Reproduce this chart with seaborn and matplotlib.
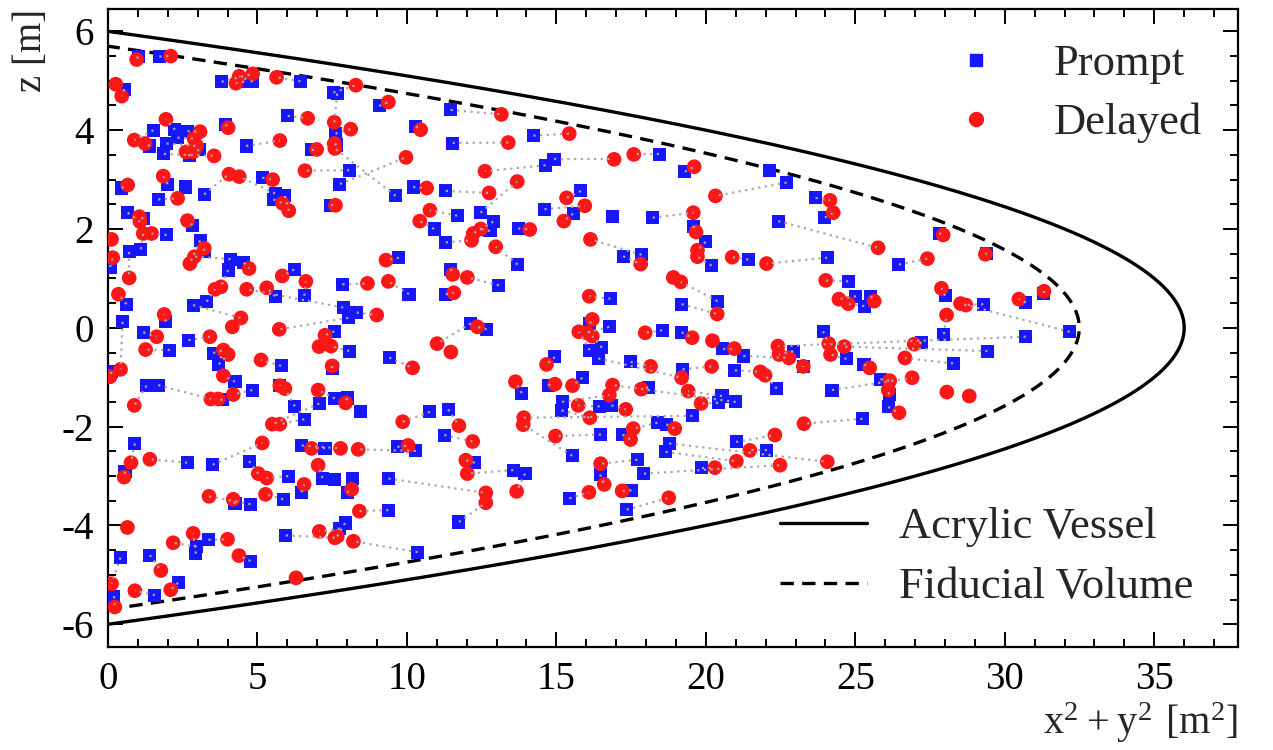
import numpy as np
import pandas as pd
import matplotlib
matplotlib.use("Agg")
import matplotlib.pyplot as plt
import seaborn as sns
from matplotlib.lines import Line2D
from matplotlib.collections import LineCollection
from matplotlib.ticker import MultipleLocator

# Prompt event positions: x^2 + y^2 [m^2] and z [m]
prompt_x = [
    1.01, 1.72, 0.55, 3.80, 4.55, 4.84, 6.44, 7.54, 7.67, 9.07, 6.01, 3.94, 1.52, 2.24, 2.66, 2.32,
    1.96, 1.40, 1.87, 2.74, 3.05, 4.62, 6.82, 7.61, 7.65, 8.07, 7.76, 5.16, 2.58, 2.00, 0.46, 3.22,
    1.68, 5.59, 5.92, 5.53, 7.46, 0.66, 1.18, 2.82,
    11.46, 10.30, 11.53, 14.23, 18.44, 14.92, 14.64, 10.21, 9.62, 11.30, 15.82, 14.60, 15.56, 12.46,
    11.68, 12.89, 10.91, 12.78, 13.72, 16.88, 18.22,
    19.30, 22.12, 22.70, 23.67, 23.98, 22.42, 19.58, 27.80,
    1.96, 3.08, 3.22, 0.71, 1.10, 4.10, 4.55, 4.02, 6.23, 7.84, 5.59, 6.57, 0.62, 2.85, 3.30, 7.87,
    8.04, 8.32, 1.94, 0.49, 1.18, 2.69, 2.07, 7.57, 8.07, 3.52, 3.71, 5.79, 7.50, 9.41, 4.25, 4.83,
    5.75, 1.29, 1.68, 3.83, 6.25, 6.57, 7.07, 7.59, 8.00, 8.46, 0.07, 0.12,
    11.30, 9.73, 13.70, 11.47, 13.08, 10.07, 11.30, 17.23, 17.85, 16.81, 12.14, 12.67, 16.12, 16.77,
    18.54, 14.95, 16.12, 16.52, 16.40, 17.48, 15.87, 14.73, 13.84, 18.07, 15.19, 15.17, 16.45, 16.84,
    10.77, 11.38, 18.38, 18.68, 11.25, 16.49, 17.21,
    19.99, 21.42, 20.19, 24.06, 24.76, 25.02, 25.52, 25.30, 26.46, 19.19, 20.39, 19.19, 23.92, 20.56,
    21.25, 22.92, 23.26, 24.71, 25.29, 25.84, 26.13, 26.10, 27.21, 27.96, 28.00, 19.22, 20.97, 22.37,
    24.22, 20.54, 20.41, 21.00, 19.55, 25.24,
    29.39, 29.28, 30.70, 31.31, 32.17, 30.70, 29.42, 28.27,
    0.90, 0.57, 2.65, 3.50, 4.72, 6.03, 6.48, 7.26, 7.18, 7.57, 8.17, 8.00, 6.48, 5.86, 4.25, 4.77,
    9.38, 9.38, 7.93, 7.76, 5.95, 3.36, 2.97, 2.94, 1.40, 0.42, 4.77, 2.35, 1.57, 0.20,
    9.68, 10.30, 12.27, 13.56, 13.95, 15.53, 16.46, 17.71, 17.93, 17.51, 15.43, 18.65, 18.77, 11.74,
    10.36, 17.35, 21.01, 22.03, 19.86,
]
prompt_z = [
    5.49, 5.49, 4.83, 4.98, 4.98, 4.98, 4.99, 4.76, 4.74, 4.49, 4.29, 4.12, 4.00, 4.01, 3.98, 3.85,
    3.73, 3.68, 3.52, 3.48, 3.60, 3.68, 3.60, 3.93, 3.70, 3.19, 2.91, 3.04, 2.85, 2.91, 2.83, 2.70,
    2.60, 2.72, 2.67, 2.60, 2.48, 2.33, 2.21, 2.08,
    4.41, 4.08, 3.74, 3.89, 3.51, 3.41, 3.29, 2.85, 2.67, 2.77, 2.77, 2.40, 2.31, 2.33,
    2.27, 2.15, 2.00, 1.96, 2.01, 2.25, 2.23,
    3.16, 3.19, 2.94, 2.63, 2.23, 2.16, 2.06, 1.91,
    1.88, 1.77, 1.55, 1.54, 1.59, 1.39, 1.32, 1.17, 1.18, 0.88, 0.64, 0.65, 0.48, 0.46, 0.53, 0.41,
    0.20, 0.31, 0.13, 0.12, -0.09, -0.25, -0.45, -0.07, -0.47, -0.51, -0.74, -0.77, -0.82, -0.60, -1.09, -1.26,
    -1.16, -1.17, -1.16, -1.46, -1.59, -1.85, -1.53, -1.43, -1.42, -1.69, 1.23, -0.89,
    1.73, 1.42, 1.28, 1.19, 0.86, 0.68, 0.68, 1.45, 1.48, 0.59, 0.09, -0.03, 0.09, 0.02,
    -0.05, -0.59, -0.45, -0.40, -0.62, -0.69, -1.01, -1.16, -1.32, -1.21, -1.50, -1.67, -1.59, -1.57,
    -1.70, -1.65, -1.92, -1.95, -2.17, -2.16, -2.16,
    1.74, 1.38, 1.26, 1.42, 0.94, 0.64, 0.64, 0.44, 1.28, 0.48, 0.54, -0.09, -0.07, -0.42,
    -0.57, -0.47, -0.79, -0.63, -0.74, -1.04, -1.35, -1.60, -0.30, -0.13, 0.65, -0.84, -0.86, -1.23,
    -1.26, -1.38, -1.52, -1.50, -1.78, -1.84,
    1.51, 0.48, 0.51, 0.70, -0.08, -0.18, -0.47, -0.72,
    -2.34, -2.91, -2.73, -2.77, -2.70, -3.00, -2.38, -2.44, -3.04, -3.07, -3.05, -3.33, -3.33, -3.47, -3.56, -3.57,
    -3.05, -3.69, -3.95, -4.06, -4.20, -4.29, -4.43, -4.57, -4.60, -4.65, -4.72, -5.16, -5.41, -5.43,
    -2.41, -2.49, -2.73, -2.88, -2.95, -2.59, -2.97, -2.67, -2.95, -3.29, -3.45, -2.51, -2.34, -3.93,
    -4.54, -3.68, -2.31, -2.48, -2.83,
]

# Delayed event positions: x^2 + y^2 [m^2] and z [m]
delayed_x = [
    0.96, 2.10, 0.26, 0.46, 4.39, 4.28, 4.84, 5.64, 8.29, 9.38, 6.68, 7.57, 8.12, 5.75, 4.02, 1.94,
    3.08, 0.88, 1.24, 2.88, 2.97, 2.61, 2.85, 3.55, 6.98, 7.57, 7.59, 6.59, 4.05, 4.39, 5.51, 1.85,
    0.66, 2.33, 5.84, 6.05, 7.61, 1.05, 1.07, 2.66,
    13.16, 10.46, 13.39, 15.43, 16.93, 17.59, 9.97, 12.61, 13.69, 10.66, 12.75, 15.34, 15.95, 10.77,
    10.43, 15.25, 14.11, 12.47, 12.22,
    19.61, 20.32, 24.15, 24.26, 19.58, 19.67, 27.94,
    1.18, 1.46, 0.12, 0.16, 3.22, 2.89, 2.74, 4.72, 5.83, 6.62, 0.71, 0.35, 3.58, 3.78, 4.64, 5.31,
    8.68, 9.30, 9.38, 8.99, 1.88, 4.45, 4.16, 3.41, 1.63, 1.26, 5.73, 7.26, 7.06, 7.46, 3.86, 4.02,
    5.12, 7.50, 0.42, 0.07, 3.86, 5.75, 5.92, 7.03, 7.95, 4.19, 3.44, 3.69, 0.88, 5.50, 5.75,
    12.16, 12.97, 16.14, 11.53, 12.02, 11.57, 16.10, 17.82, 16.20, 12.36, 15.75, 16.01, 16.20, 17.97,
    11.01, 11.47, 10.19, 14.67, 18.15, 13.63, 14.95, 15.54, 16.88, 16.77, 17.84, 15.73, 17.32, 16.12,
    13.91, 13.89, 11.74, 9.86, 17.57,
    19.72, 19.72, 20.88, 22.03, 25.76, 27.41, 18.91, 19.16, 20.38, 24.01, 24.45, 24.76, 25.63, 27.88,
    28.05, 19.54, 20.22, 20.95, 22.41, 22.45, 22.78, 23.26, 24.11, 24.63, 24.17, 26.97, 26.66, 25.48,
    26.90, 26.15, 26.10, 26.46, 28.06, 20.19, 21.82, 21.98, 19.19, 19.41, 19.84, 18.96, 23.28, 22.31,
    29.35, 28.52, 28.70, 30.47, 31.31, 28.81,
    5.16, 0.77, 1.40, 0.54, 5.03, 5.31, 5.27, 3.38, 4.19, 6.81, 7.78, 8.37, 7.03, 6.56, 8.15, 8.41,
    0.65, 2.18, 2.85, 4.00, 4.38, 7.07, 7.59, 7.67, 8.21, 1.77, 0.90, 2.10, 0.12, 0.23, 6.29,
    10.04, 12.20, 14.97, 17.48, 11.97, 12.02, 12.64, 12.64, 13.67, 16.09, 16.48, 16.60, 17.20, 18.76,
    21.47, 21.02, 20.30, 22.48, 24.06,
]
delayed_z = [
    5.43, 5.50, 4.93, 4.69, 5.09, 4.95, 5.14, 5.07, 4.91, 4.57, 4.24, 4.16, 4.02, 3.79, 4.05, 4.22,
    3.97, 3.80, 3.73, 3.83, 3.68, 3.56, 3.56, 3.48, 3.61, 3.73, 3.63, 3.18, 3.11, 3.06, 3.00, 3.07,
    2.89, 2.62, 2.52, 2.37, 2.48, 2.25, 2.15, 2.17,
    4.32, 4.01, 3.75, 3.93, 3.41, 3.51, 3.45, 3.17, 2.96, 2.83, 2.73, 2.63, 2.47, 2.38,
    2.16, 2.16, 1.99, 2.00, 1.91,
    3.26, 2.67, 2.58, 2.33, 2.33, 1.94, 1.88,
    1.91, 1.91, 1.79, 1.42, 1.61, 1.44, 1.30, 1.20, 1.05, 0.94, 1.01, 0.68, 0.78, 0.83, 0.78, 0.81,
    0.90, 1.37, 0.94, 0.26, 0.27, 0.20, 0.02, -0.18, -0.18, -0.44, -0.03, -0.15, -0.38, -0.37, -0.45, -0.54,
    -0.65, -0.77, -0.84, -0.99, -0.97, -1.17, -1.23, -1.26, -1.52, -1.35, -1.44, -1.44, -1.57, -1.95, -1.95,
    1.77, 1.64, 1.79, 1.08, 1.02, 0.71, 0.64, 1.29, 0.17, 0.02, -0.08, -0.10, -0.17, -0.10,
    -0.32, -0.49, -0.81, -0.74, -0.78, -1.09, -1.14, -1.17, -1.16, -1.36, -1.24, -1.57, -1.65, -1.82,
    -1.82, -1.96, -1.98, -1.90, -2.04,
    1.57, 1.44, 1.43, 1.30, 1.62, 1.40, 1.02, 0.93, 0.28, 0.96, 0.58, 0.49, 0.54, 0.80,
    0.26, -0.20, -0.26, -0.42, -0.37, -0.54, -0.61, -0.78, -0.32, -0.38, -0.54, -0.33, -0.61, -0.81,
    -1.01, -1.07, -1.26, -1.72, -1.30, -0.78, -0.89, -0.96, -1.01, -1.28, -1.53, -2.04, -1.94, -2.17,
    1.49, 0.49, 0.46, 0.58, 0.74, -1.38,
    -2.33, -2.73, -2.66, -3.02, -2.95, -3.04, -3.37, -3.41, -3.47, -2.44, -2.44, -2.46, -2.78, -3.17, -3.27, -3.71,
    -4.04, -4.35, -4.16, -4.28, -4.61, -4.12, -4.25, -4.22, -4.32, -4.91, -5.32, -5.30, -5.18, -5.65, -5.06,
    -2.38, -2.30, -2.19, -2.26, -2.68, -2.95, -3.34, -3.54, -3.31, -3.33, -2.75, -3.17, -3.30, -3.44,
    -2.48, -2.70, -2.83, -2.78, -2.71,
]

# Boundary radii [m]
VESSEL_R = 6.0
FIDUCIAL_R = 5.7

sns.set_theme(style="ticks")
plt.rcParams["font.family"] = ["Liberation Serif", "DejaVu Serif"]
plt.rcParams["axes.unicode_minus"] = False
plt.rcParams["mathtext.fontset"] = "custom"
plt.rcParams["mathtext.rm"] = "Liberation Serif"

fig = plt.figure(figsize=(12.73, 7.5), dpi=100)
ax = fig.add_axes([0.0848, 0.1373, 0.8877, 0.8512])

events = pd.concat([
    pd.DataFrame({"x": prompt_x, "z": prompt_z, "kind": "Prompt"}),
    pd.DataFrame({"x": delayed_x, "z": delayed_z, "kind": "Delayed"}),
], ignore_index=True)

palette = {"Prompt": "#1616ff", "Delayed": "#ff1616"}
sns.scatterplot(data=events, x="x", y="z", hue="kind", style="kind", size="kind",
                markers={"Prompt": "s", "Delayed": "o"}, palette=palette,
                sizes={"Prompt": 88, "Delayed": 112}, linewidth=0, legend=False,
                ax=ax, zorder=3)

# Link each prompt event with its closest delayed partner (distance in r, z)
P = np.column_stack([prompt_x, prompt_z])
D = np.column_stack([delayed_x, delayed_z])
dist = np.hypot(np.sqrt(P[:, 0])[:, None] - np.sqrt(D[:, 0])[None, :],
                P[:, 1][:, None] - D[:, 1][None, :])
used_p, used_d, segs = set(), set(), []
for k in np.argsort(dist, axis=None):
    i, j = divmod(int(k), len(D))
    if dist[i, j] > 1.2:
        break
    if i in used_p or j in used_d:
        continue
    used_p.add(i)
    used_d.add(j)
    segs.append([P[i], D[j]])
ax.add_collection(LineCollection(segs, colors="#a8a8a8", linewidths=1.6,
                                 linestyles=[(0, (1, 2))], zorder=4))

# Acrylic vessel and fiducial volume boundaries
for R, ls in ((VESSEL_R, "-"), (FIDUCIAL_R, (0, (4, 2.5)))):
    zz = np.linspace(-R, R, 600)
    ax.plot(R**2 - zz**2, zz, color="black", lw=2.4, ls=ls, zorder=2)

ax.set_xlim(0, 37.8)
ax.set_ylim(-6.46, 6.46)
ax.xaxis.set_major_locator(MultipleLocator(5))
ax.xaxis.set_minor_locator(MultipleLocator(1))
ax.yaxis.set_major_locator(MultipleLocator(2))
ax.yaxis.set_minor_locator(MultipleLocator(0.5))
ax.tick_params(which="both", direction="in", top=True, right=True, width=1.4,
               labelsize=28, colors="black")
ax.tick_params(which="major", length=11, pad=10)
ax.tick_params(which="minor", length=6)
for sp in ax.spines.values():
    sp.set_linewidth(1.6)
    sp.set_color("black")

ax.set_xlabel(r"$\mathregular{x^2+y^2\ [m^2]}$", fontsize=29, loc="right", labelpad=2)
ax.set_ylabel("z [m]", fontsize=28, loc="top", labelpad=8)

marker_handles = [
    Line2D([], [], ls="none", marker="s", color=palette["Prompt"], markersize=9),
    Line2D([], [], ls="none", marker="o", color=palette["Delayed"], markersize=10),
]
leg1 = ax.legend(marker_handles, ["Prompt", "Delayed"], loc="upper left",
                 bbox_to_anchor=(954 / 1273, 1 - 44 / 750), bbox_transform=fig.transFigure,
                 frameon=False, fontsize=32, handlelength=1.0, handletextpad=1.25,
                 labelspacing=0.42, borderpad=0, borderaxespad=0)
ax.add_artist(leg1)

line_handles = [
    Line2D([], [], color="black", lw=2.4),
    Line2D([], [], color="black", lw=2.4, ls=(0, (4, 2.5))),
]
ax.legend(line_handles, ["Acrylic Vessel", "Fiducial Volume"], loc="upper left",
          bbox_to_anchor=(780 / 1273, 1 - 507 / 750), bbox_transform=fig.transFigure,
          frameon=False, fontsize=32, handlelength=1.95, handletextpad=0.72,
          labelspacing=0.45, borderpad=0, borderaxespad=0)

fig.savefig("out.png", dpi=100)
